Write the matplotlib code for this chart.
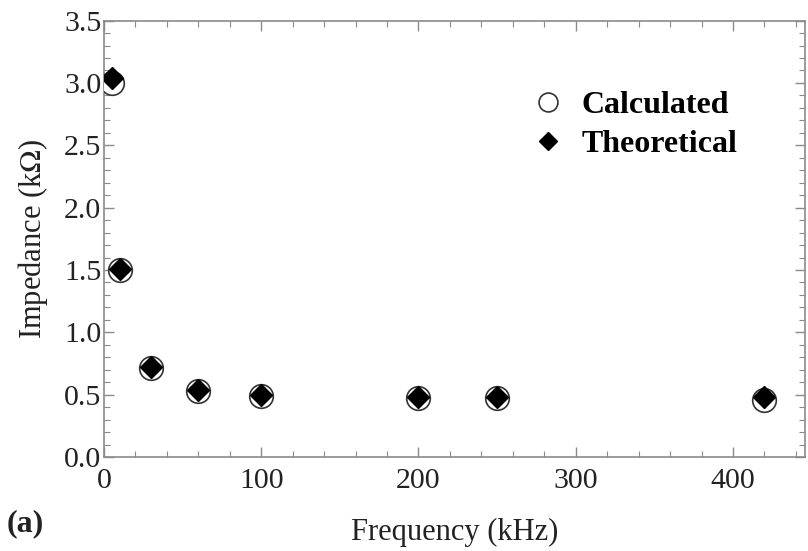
import matplotlib
matplotlib.use("Agg")
import matplotlib.pyplot as plt
from matplotlib.ticker import MultipleLocator, FormatStrFormatter

# Data
frequency = [5, 10, 30, 60, 100, 200, 250, 420]          # kHz
calculated = [3.00, 1.50, 0.71, 0.53, 0.49, 0.47, 0.47, 0.46]   # kOhm
theoretical = [3.04, 1.51, 0.72, 0.54, 0.50, 0.48, 0.48, 0.48]  # kOhm

plt.rcParams['font.family'] = ['Liberation Serif', 'DejaVu Serif']
plt.rcParams['mathtext.fontset'] = 'stix'

fig = plt.figure(figsize=(8.08, 5.51), dpi=100)
ax = fig.add_axes([0.1287, 0.1706, 0.868, 0.792])

ax.plot(frequency, calculated, 'o', markersize=17, markerfacecolor='white',
        markeredgecolor='#333333', markeredgewidth=1.2, label='Calculated', zorder=3)
ax.plot(frequency, theoretical, 'D', markersize=11, color='black',
        label='Theoretical', zorder=4)

ax.set_xlim(0, 446)
ax.set_ylim(0, 3.5)
ax.xaxis.set_major_locator(MultipleLocator(100))
ax.xaxis.set_minor_locator(MultipleLocator(20))
ax.yaxis.set_major_locator(MultipleLocator(0.5))
ax.yaxis.set_minor_locator(MultipleLocator(0.1))
ax.yaxis.set_major_formatter(FormatStrFormatter('%.1f'))

gray = '#8a8a8a'
for s in ax.spines.values():
    s.set_color(gray)
    s.set_linewidth(1.2)
ax.tick_params(which='both', direction='in', top=True, right=True, color=gray,
               labelsize=21.5, labelcolor='#222222')
ax.tick_params(axis='x', pad=8)
ax.tick_params(axis='y', pad=2)
ax.tick_params(which='major', length=7, width=1)
ax.tick_params(which='minor', length=4, width=0.8)

ax.set_xlabel('Frequency (kHz)', fontsize=22, color='#222222', labelpad=17)
ax.set_ylabel('Impedance (k$\\Omega$)', fontsize=22, color='#222222', labelpad=10)

leg = ax.legend(loc='upper left', bbox_to_anchor=(0.61, 0.84), frameon=False,
                prop={'weight': 'bold', 'size': 23}, markerscale=0.8,
                handletextpad=0.55, labelspacing=0.3, handlelength=1.0,
                borderpad=0, borderaxespad=0)

fig.text(0.008, 0.035, '(a)', fontsize=23, fontweight='bold', color='#222222')

fig.savefig('out.png', dpi=100)
